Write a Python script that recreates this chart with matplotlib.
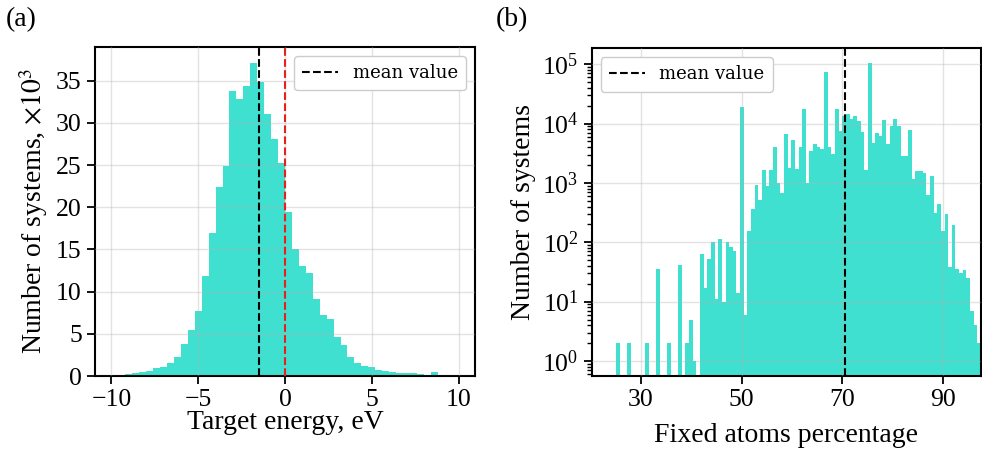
import numpy as np
import matplotlib
matplotlib.use("Agg")
import matplotlib.pyplot as plt

plt.rcParams['font.family'] = ['Liberation Serif', 'DejaVu Serif']
plt.rcParams['mathtext.fontset'] = 'stix'

# ---------------- data ----------------
# (a) target energy histogram, thousands of systems per 0.4 eV bin from -10 to 10
energy_edges = np.linspace(-10, 10, 51)
energy_counts = [0.10, 0.15, 0.20, 0.30, 0.47, 0.63, 0.90, 1.10, 1.58, 2.30,
                 3.75, 5.40, 7.70, 11.8, 16.9, 22.4, 24.9, 33.8, 32.8, 34.4,
                 37.1, 34.8, 31.1, 28.1, 25.2, 19.4, 15.1, 13.0, 12.2, 9.1,
                 7.2, 6.8, 4.66, 3.7, 2.2, 1.5, 1.19, 1.03, 0.71, 0.55,
                 0.43, 0.40, 0.40, 0.32, 0.24, 0.15, 0.43, 0.05, 0.03, 0.03]
energy_mean = -1.52
energy_ref = 0.0

# (b) fixed atoms percentage histogram, 100 bins
fixed_edges = np.linspace(25.04, 97.5, 101)
fixed_counts = [2, 0, 0, 2, 0, 0, 0, 0, 2, 0,
                0, 36, 0, 0, 2, 0, 0, 41, 0, 2,
                5, 1, 0, 63, 17, 53, 101, 11, 113, 10,
                100, 82, 70, 14, 19000, 6, 158, 360, 930, 516,
                1660, 906, 1660, 3970, 1000, 690, 6700, 1820, 5300, 1700,
                4100, 17800, 1000, 3500, 4500, 4100, 3700, 74000, 3970, 3050,
                17800, 7500, 13500, 14600, 12000, 13500, 11000, 7300, 1680, 107000,
                4800, 7000, 6200, 11500, 4500, 9000, 11800, 9000, 2900, 2900,
                7800, 1150, 1580, 1580, 1450, 630, 1290, 310, 440, 158,
                300, 39, 195, 35, 30, 34, 25, 7, 4, 2]
fixed_mean = 70.5

bar_color = '#40E0D0'
label_fs = 20
tick_fs = 18.5

fig = plt.figure(figsize=(9.82, 4.5), dpi=100)

# ---------------- (a) ----------------
ax1 = fig.add_axes([0.0967, 0.1644, 0.387, 0.7312])
ax1.hist(energy_edges[:-1], bins=energy_edges, weights=energy_counts,
         histtype='stepfilled', color=bar_color, linewidth=0, zorder=1)
ax1.axvline(energy_mean, color='black', linestyle='--', linewidth=1.5,
            label='mean value', zorder=3)
ax1.axvline(energy_ref, color='#e8201a', linestyle='--', linewidth=1.5, zorder=3)
ax1.set_xlim(-10.95, 10.95)
ax1.set_ylim(0, 39)
ax1.set_xticks([-10, -5, 0, 5, 10])
ax1.set_yticks([0, 5, 10, 15, 20, 25, 30, 35])
ax1.grid(True, color='#b0b0b0', alpha=0.35, linewidth=1.0, zorder=2)
ax1.set_axisbelow(False)
ax1.set_xlabel('Target energy, eV', fontsize=label_fs, labelpad=-1)
ax1.set_ylabel(r'Number of systems, $\times 10^3$', fontsize=label_fs)
leg1 = ax1.legend(loc='upper right', prop={'family': 'DejaVu Serif', 'size': 13},
                  handlelength=2.0, borderpad=0.45, framealpha=1.0)
leg1.get_frame().set_edgecolor('#cccccc')

# ---------------- (b) ----------------
ax2 = fig.add_axes([0.6025, 0.1651, 0.3965, 0.7276])
ax2.hist(fixed_edges[:-1], bins=fixed_edges, weights=fixed_counts,
         histtype='bar', rwidth=1.0, color=bar_color, linewidth=0, log=True, zorder=1)
ax2.axvline(fixed_mean, color='black', linestyle='--', linewidth=1.5,
            label='mean value', zorder=3)
ax2.set_yscale('log')
ax2.set_xlim(20.2, 97.5)
ax2.set_ylim(0.565, 1.86e5)
ax2.set_xticks([30, 50, 70, 90])
ax2.grid(True, which='major', color='#b0b0b0', alpha=0.35, linewidth=1.0, zorder=2)
ax2.set_axisbelow(False)
ax2.set_xlabel('Fixed atoms percentage', fontsize=label_fs, labelpad=9)
ax2.set_ylabel('Number of systems', fontsize=label_fs)
leg2 = ax2.legend(loc='upper left', prop={'family': 'DejaVu Serif', 'size': 13},
                  handlelength=2.0, borderpad=0.45, framealpha=1.0)
leg2.get_frame().set_edgecolor('#cccccc')

for ax in (ax1, ax2):
    for s in ax.spines.values():
        s.set_linewidth(1.5)
    ax.tick_params(axis='both', which='major', labelsize=tick_fs, length=6, width=1.3)
    ax.tick_params(axis='both', which='minor', length=3.5, width=1.0)
ax2.tick_params(axis='x', which='minor', bottom=False)

fig.text(0.006, 0.985, '(a)', fontsize=20, va='top', ha='left')
fig.text(0.505, 0.985, '(b)', fontsize=20, va='top', ha='left')

fig.savefig('out.png', dpi=100)
